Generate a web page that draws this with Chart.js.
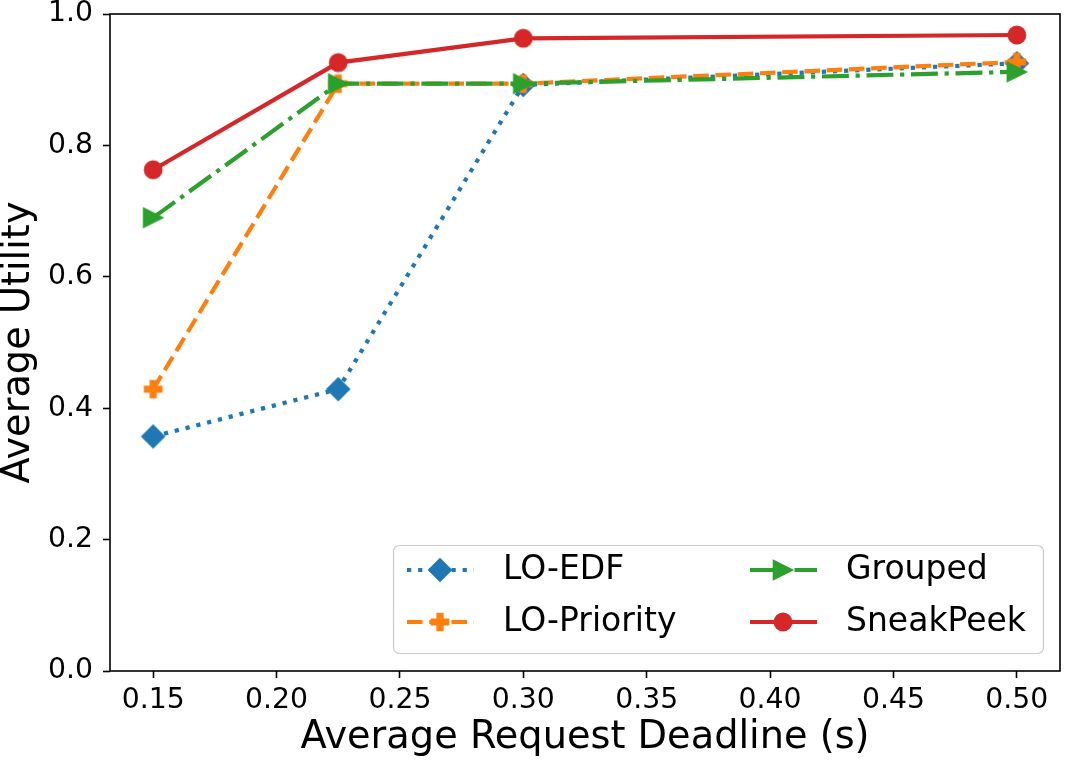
<!DOCTYPE html>
<html>
<head>
    <title>Average Utility vs Average Request Deadline</title>
    <script src="https://cdn.jsdelivr.net/npm/chart.js"></script>
    <style>
        html, body {
            margin: 0;
            padding: 0;
            overflow: hidden;
            background: #ffffff;
        }

        #chart {
            display: block;
        }
    </style>
</head>
<body>
    <canvas id="chart" width="1069" height="763"></canvas>

    <script>
        // Data
        const deadlines = [0.15, 0.225, 0.30, 0.50];
        const loEdf = [0.357, 0.429, 0.892, 0.925];
        const loPriority = [0.429, 0.894, 0.894, 0.927];
        const grouped = [0.690, 0.894, 0.894, 0.912];
        const sneakPeek = [0.763, 0.926, 0.963, 0.968];

        const seriesNames = ['LO-EDF', 'LO-Priority', 'Grouped', 'SneakPeek'];
        const xTicks = [0.15, 0.20, 0.25, 0.30, 0.35, 0.40, 0.45, 0.50];
        const yTicks = [0.0, 0.2, 0.4, 0.6, 0.8, 1.0];

        Chart.defaults.font.family = "'DejaVu Sans', sans-serif";
        Chart.defaults.color = '#000000';

        // Marker images in the matplotlib style (face + thin edge of same colour)
        function makeMarker(shape, color) {
            var c = document.createElement('canvas');
            c.width = 30;
            c.height = 30;
            var g = c.getContext('2d');
            g.fillStyle = color;
            g.strokeStyle = color;
            g.lineWidth = 1.4;
            g.translate(15, 15);
            g.beginPath();
            if (shape === 'circle') {
                g.arc(0, 0, 8.7, 0, Math.PI * 2);
            } else if (shape === 'diamond') {
                g.moveTo(0, -11.3);
                g.lineTo(11.3, 0);
                g.lineTo(0, 11.3);
                g.lineTo(-11.3, 0);
                g.closePath();
            } else if (shape === 'triangle') {
                var h = 9.6;
                g.moveTo(h, 0);
                g.lineTo(-h, h);
                g.lineTo(-h, -h);
                g.closePath();
            } else if (shape === 'plus') {
                var a = 8.65, b = a / 3;
                var pts = [[-b, -a], [b, -a], [b, -b], [a, -b], [a, b], [b, b], [b, a], [-b, a], [-b, b], [-a, b], [-a, -b], [-b, -b]];
                g.moveTo(pts[0][0], pts[0][1]);
                for (var i = 1; i < pts.length; i++) g.lineTo(pts[i][0], pts[i][1]);
                g.closePath();
            }
            g.fill();
            g.stroke();
            return c;
        }

        const lw = 4.2;
        const styles = [
            { color: '#1f77b4', dash: [lw * 1, lw * 1.65], marker: makeMarker('diamond', '#1f77b4') },
            { color: '#ff7f0e', dash: [lw * 3.7, lw * 1.6], marker: makeMarker('plus', '#ff7f0e') },
            { color: '#2ca02c', dash: [lw * 6.4, lw * 1.6, lw * 1, lw * 1.6], marker: makeMarker('triangle', '#2ca02c') },
            { color: '#d62728', dash: [], marker: makeMarker('circle', '#d62728') }
        ];
        const seriesValues = [loEdf, loPriority, grouped, sneakPeek];

        var datasets = seriesValues.map(function (vals, i) {
            return {
                label: seriesNames[i],
                data: deadlines.map(function (x, j) { return { x: x, y: vals[j] }; }),
                borderColor: styles[i].color,
                backgroundColor: styles[i].color,
                borderWidth: lw,
                borderDash: styles[i].dash,
                borderCapStyle: 'butt',
                pointStyle: styles[i].marker,
                pointRadius: 9,
                tension: 0,
                order: seriesValues.length - i
            };
        });

        // Full axes frame
        const framePlugin = {
            id: 'frame',
            afterDatasetsDraw: function (chart) {
                var a = chart.chartArea, ctx = chart.ctx;
                ctx.save();
                ctx.strokeStyle = '#000000';
                ctx.lineWidth = 1.6;
                ctx.strokeRect(a.left, a.top, a.right - a.left, a.bottom - a.top);
                ctx.restore();
            }
        };

        // Two-column framed legend in the lower right of the plot
        const boxLegend = {
            id: 'boxLegend',
            afterDraw: function (chart) {
                var a = chart.chartArea, ctx = chart.ctx;
                var W = 650, H = 108;
                var L = a.right - 17 - W, T = a.bottom - 18 - H;
                ctx.save();
                ctx.beginPath();
                ctx.roundRect(L + 0.5, T + 0.5, W, H, 6);
                ctx.fillStyle = 'rgba(255,255,255,0.8)';
                ctx.fill();
                ctx.strokeStyle = '#cccccc';
                ctx.lineWidth = 1.2;
                ctx.stroke();

                var cols = [0, 343];
                var rows = [25, 77];
                seriesNames.forEach(function (name, i) {
                    var cx = L + cols[Math.floor(i / 2)];
                    var cy = T + rows[i % 2];
                    ctx.beginPath();
                    ctx.setLineDash(styles[i].dash);
                    ctx.lineCap = 'butt';
                    ctx.strokeStyle = styles[i].color;
                    ctx.lineWidth = lw;
                    ctx.moveTo(cx + 14, cy);
                    ctx.lineTo(cx + 81, cy);
                    ctx.stroke();
                    ctx.setLineDash([]);
                    var m = styles[i].marker;
                    ctx.drawImage(m, cx + 47 - m.width / 2, cy - m.height / 2);
                    ctx.fillStyle = '#000000';
                    ctx.font = "33px 'DejaVu Sans'";
                    ctx.textAlign = 'left';
                    ctx.textBaseline = 'middle';
                    ctx.fillText(name, cx + 110, cy);
                });
                ctx.restore();
            }
        };

        var ctx = document.getElementById('chart').getContext('2d');
        var chart = new Chart(ctx, {
            type: 'line',
            data: { datasets: datasets },
            plugins: [framePlugin, boxLegend],
            options: {
                responsive: false,
                animation: false,
                events: [],
                layout: { autoPadding: false, padding: { top: 14, right: 9, left: 0, bottom: 0 } },
                plugins: {
                    legend: { display: false },
                    tooltip: { enabled: false }
                },
                scales: {
                    x: {
                        type: 'linear',
                        min: 0.1325,
                        max: 0.5175,
                        afterFit: function (s) {
                            s.height = 92;
                            s.paddingLeft = 0;
                            s.paddingRight = 0;
                        },
                        afterBuildTicks: function (s) { s.ticks = xTicks.map(function (v) { return { value: v }; }); },
                        ticks: {
                            font: { size: 28.3 },
                            color: '#000000',
                            padding: 6,
                            maxRotation: 0,
                            autoSkip: false,
                            callback: function (v) { return v.toFixed(2); }
                        },
                        grid: {
                            drawOnChartArea: false,
                            drawTicks: true,
                            tickLength: 7,
                            tickWidth: 1.6,
                            tickColor: '#000000'
                        },
                        border: { display: false },
                        title: {
                            display: true,
                            text: 'Average Request Deadline (s)',
                            font: { size: 38.3, lineHeight: 1 },
                            color: '#000000',
                            padding: { top: 0, bottom: 6 }
                        }
                    },
                    y: {
                        type: 'linear',
                        min: 0,
                        max: 1,
                        afterFit: function (s) {
                            s.width = 110;
                            s.paddingTop = 0;
                            s.paddingBottom = 0;
                        },
                        afterBuildTicks: function (s) { s.ticks = yTicks.map(function (v) { return { value: v }; }); },
                        ticks: {
                            font: { size: 28.3 },
                            color: '#000000',
                            padding: 10,
                            autoSkip: false,
                            callback: function (v) { return v.toFixed(1); }
                        },
                        grid: {
                            drawOnChartArea: false,
                            drawTicks: true,
                            tickLength: 7,
                            tickWidth: 1.6,
                            tickColor: '#000000'
                        },
                        border: { display: false },
                        title: {
                            display: true,
                            text: 'Average Utility',
                            font: { size: 38.3, lineHeight: 1 },
                            color: '#000000',
                            padding: { top: 0, bottom: 0 }
                        }
                    }
                }
            }
        });
    </script>
</body>
</html>
